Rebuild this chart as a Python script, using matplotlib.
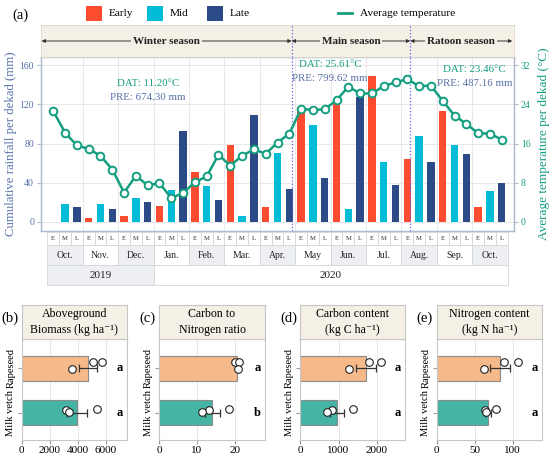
import numpy as np
import matplotlib
matplotlib.use('Agg')
import matplotlib.pyplot as plt
from matplotlib.patches import Rectangle
from matplotlib.lines import Line2D
from matplotlib.transforms import blended_transform_factory

plt.rcParams['font.family'] = ['Liberation Serif', 'DejaVu Serif']

# ---- data (a) ----
months = ['Oct.', 'Nov.', 'Dec.', 'Jan.', 'Feb.', 'Mar.', 'Apr.', 'May',
          'Jun.', 'Jul.', 'Aug.', 'Sep.', 'Oct.']
dekads = ['E', 'M', 'L']
years = ['2019', '2020']
year_months = [3, 10]

rain_early = [0, 4, 6, 16, 51, 78, 15.6, 113, 120, 149, 64.5, 113, 15.6]
rain_mid = [18, 18, 24, 33, 37, 6, 70, 99, 13, 61.5, 87.6, 78, 32]
rain_late = [15, 13, 20, 93, 22, 109, 34, 45, 127, 38, 61, 69, 40]

temp = [22.6, 18.2, 15.6, 14.9, 13.5, 10.7, 6.0, 9.4, 7.5,
        7.9, 4.9, 5.9, 8.1, 9.3, 13.7, 11.5, 13.5, 14.8,
        13.9, 16.2, 18.0, 23.1, 22.8, 23.0, 24.8, 27.6, 26.2,
        26.2, 27.7, 28.5, 29.1, 27.7, 27.8, 24.7, 21.7, 20.0,
        18.1, 18.0, 16.8]

seasons = ['Winter season', 'Main season', 'Ratoon season']
season_bounds = [20.2, 30.25]
season_dat = ['DAT: 11.20°C', 'DAT: 25.61°C', 'DAT: 23.46°C']
season_pre = ['PRE: 674.30 mm', 'PRE: 799.62 mm', 'PRE: 487.16 mm']

# ---- data (b)-(e) ----
crops = ['Rapeseed', 'Milk vetch']
panels = [
    dict(tag='(b)', title='Aboveground\nBiomass (kg ha⁻¹)',
         mean=[4740, 3960], se=[640, 710],
         pts=[[5100, 5765, 3630], [3200, 3370, 5410]],
         letters=['a', 'a'], xmax=7550, ticks=[0, 2000, 4000, 6000]),
    dict(tag='(c)', title='Carbon to\nNitrogen ratio',
         mean=[20.6, 14.1], se=[0.35, 2.0],
         pts=[[20.0, 21.2, 21.0], [13.2, 11.2, 18.4]],
         letters=['a', 'b'], xmax=28, ticks=[0, 10, 20]),
    dict(tag='(d)', title='Carbon content\n(kg C ha⁻¹)',
         mean=[1713, 957], se=[260, 190],
         pts=[[1800, 2096, 1261], [826, 713, 1365]],
         letters=['a', 'a'], xmax=2740, ticks=[0, 1000, 2000]),
    dict(tag='(e)', title='Nitrogen content\n(kg N ha⁻¹)',
         mean=[83.7, 67], se=[13, 4],
         pts=[[88.1, 107, 61.7], [63, 65.2, 77.5]],
         letters=['a', 'a'], xmax=139, ticks=[0, 50, 100]),
]
jitter = [[0.14, 0.14, -0.02], [0.05, 0.01, 0.08]]

# ---- colours ----
c_early = '#FC4B2E'
c_mid = '#00BCD6'
c_late = '#2B4A86'
c_temp = '#139E80'
c_rain_txt = '#5670A8'
c_beige = '#F5F0E6'
c_spine = '#AEBAD0'
c_rape = '#F6B98A'
c_milk = '#45B4A4'

W, H = 550, 458
fig = plt.figure(figsize=(W / 100, H / 100), dpi=100)


def box(x0, y0, x1, y1):
    # pixel box (top-left origin) -> figure fraction
    return [x0 / W, 1 - y1 / H, (x1 - x0) / W, (y1 - y0) / H]


n = len(months) * 3
xlo, xhi = -1.04, n - 1 + 1.04

# ---------------- (a) main plot ----------------
ax = fig.add_axes(box(41, 57, 514, 231))
pos = np.arange(len(months)) * 3
bw = 0.62
ax.bar(pos, rain_early, width=bw, color=c_early, zorder=2)
ax.bar(pos + 1, rain_mid, width=bw, color=c_mid, zorder=2)
ax.bar(pos + 2, rain_late, width=bw, color=c_late, zorder=2)
ax.set_xlim(xlo, xhi)
ax.set_ylim(-9.2, 168.2)
ax.set_yticks([0, 40, 80, 120, 160])
ax.set_xticks(np.arange(2.5, n - 1, 3))
ax.tick_params(axis='x', length=0, labelbottom=False)
ax.tick_params(axis='y', length=3, color=c_spine, labelcolor=c_rain_txt,
               labelsize=7, pad=2)
ax.grid(True, color='#E8E8E8', lw=0.7, zorder=0)
ax.set_axisbelow(True)
for s in ax.spines.values():
    s.set_color(c_spine)
    s.set_linewidth(0.9)
ax.set_ylabel('Cumulative rainfall per dekad (mm)', color=c_rain_txt,
              fontsize=9.2, labelpad=1.5)

ax2 = ax.twinx()
ax2.plot(np.arange(n), temp, color=c_temp, lw=1.8, marker='o', ms=5.5,
         mfc='white', mec=c_temp, mew=1.4, zorder=5)
ax2.set_ylim(-9.2 / 5, 168.2 / 5)
ax2.set_yticks([0, 8, 16, 24, 32])
ax2.tick_params(axis='y', length=3, color=c_spine, labelcolor=c_temp,
                labelsize=7, pad=2)
for s in ax2.spines.values():
    s.set_color(c_spine)
    s.set_linewidth(0.9)
ax2.set_ylabel('Average temperature per dekad (°C)', color=c_temp,
               fontsize=9.5, labelpad=5)

for b in season_bounds:
    ax.axvline(b, color='#6060EE', ls=':', lw=0.9, zorder=3)

# season summary texts
txt_x = [8.0, 23.45, 35.7]
txt_y = [(141, 127), (161, 146), (155, 141)]
for i in range(3):
    ax.text(txt_x[i], txt_y[i][0], season_dat[i], color=c_temp, fontsize=7.8,
            ha='center', va='center', zorder=6)
    ax.text(txt_x[i], txt_y[i][1], season_pre[i], color=c_rain_txt,
            fontsize=7.8, ha='center', va='center', zorder=6)

# season header band
axh = fig.add_axes(box(41, 25, 514, 57))
axh.set_facecolor(c_beige)
axh.set_xlim(xlo, xhi)
axh.set_ylim(0, 1)
axh.set_xticks([])
axh.set_yticks([])
for s in axh.spines.values():
    s.set_color('#DDD7CA')
    s.set_linewidth(0.6)
edges = [xlo + 0.05] + season_bounds + [xhi - 0.15]
for i, name in enumerate(seasons):
    x0, x1 = edges[i], edges[i + 1]
    axh.annotate('', xy=(x0, 0.5), xytext=(x1, 0.5),
                 arrowprops=dict(arrowstyle='<|-|>', color='#333333', lw=0.7,
                                 mutation_scale=5, shrinkA=0, shrinkB=0))
    axh.text((x0 + x1) / 2, 0.5, name, ha='center', va='center',
             fontsize=8, fontweight='bold', color='#222222',
             bbox=dict(facecolor=c_beige, edgecolor='none', pad=1.5))
for b in season_bounds:
    axh.axvline(b, color='#6060EE', ls=':', lw=0.9)

# table under the x axis
axt = fig.add_axes(box(41, 231, 514, 286))
axt.set_xlim(xlo, xhi)
axt.set_ylim(55, 0)
axt.axis('off')
grid_c = '#D3D6DA'
for i in range(n):
    axt.add_patch(Rectangle((i - 0.5, 1), 1, 13, fc='white', ec=grid_c, lw=0.6))
    axt.text(i, 7.5, dekads[i % 3], ha='center', va='center', fontsize=4.8,
             color='#333333')
for m, name in enumerate(months):
    fc = '#EDEFF2' if m % 2 == 0 else 'white'
    axt.add_patch(Rectangle((m * 3 - 0.5, 14), 3, 20, fc=fc, ec=grid_c, lw=0.6))
    axt.text(m * 3 + 1, 24, name, ha='center', va='center', fontsize=7,
             color='#222222')
start = 0
for k, yr in enumerate(years):
    width = year_months[k] * 3
    fc = '#EDEFF2' if k == 0 else 'white'
    axt.add_patch(Rectangle((start - 0.5, 34), width, 20, fc=fc, ec=grid_c, lw=0.6))
    axt.text(start - 0.5 + width / 2, 44, yr, ha='center', va='center',
             fontsize=8, color='#222222')
    start += width

# legend row
fig.text(12 / W, 1 - 15 / H, '(a)', fontsize=10.5, ha='left', va='center')
leg_items = [(86, c_early, 'Early'), (147, c_mid, 'Mid'), (207, c_late, 'Late')]
for x, c, lab in leg_items:
    fig.patches.append(Rectangle((x / W, 1 - 21 / H), 16 / W, 15 / H,
                                 fc=c, ec='none', transform=fig.transFigure))
    fig.text((x + 23) / W, 1 - 13 / H, lab, fontsize=8.2, va='center')
fig.lines.append(Line2D([338 / W, 352 / W], [1 - 13 / H, 1 - 13 / H],
                        color=c_temp, lw=2, transform=fig.transFigure))
fig.text(360 / W, 1 - 13 / H, 'Average temperature', fontsize=8.2, va='center')

# ---------------- (b)-(e) ----------------
px_left = [21.7, 159.3, 300, 436.7]
for k, p in enumerate(panels):
    x0 = px_left[k]
    x1 = x0 + 105.5
    axb = fig.add_axes(box(x0, 339, x1, 440))
    axb.barh([1, 0], p['mean'], height=0.57, color=[c_rape, c_milk],
             edgecolor='#8A8A8A', lw=0.8, zorder=2)
    axb.errorbar(p['mean'], [1, 0], xerr=p['se'], fmt='none', ecolor='#333333',
                 elinewidth=0.9, capsize=3, capthick=0.9, zorder=3)
    for j in range(2):
        axb.scatter(p['pts'][j], np.array(jitter[j]) + (1 - j), s=30,
                    facecolor='white', edgecolor='#222222', lw=0.8, zorder=4)
    tr = blended_transform_factory(axb.transAxes, axb.transData)
    for j in range(2):
        axb.text(0.93, 1 - j, p['letters'][j], transform=tr, ha='center',
                 va='center', fontsize=9, fontweight='bold')
    axb.set_xlim(0, p['xmax'])
    axb.set_ylim(-0.62, 1.66)
    axb.set_xticks(p['ticks'])
    axb.set_yticks([1, 0])
    axb.set_yticklabels(crops, rotation=90, va='center', fontsize=7.6)
    axb.tick_params(axis='x', labelsize=8, length=3, color='#999999', pad=1.5)
    axb.tick_params(axis='y', length=3, color='#999999', pad=1.5)
    axb.grid(True, axis='x', color='#E6E6E6', lw=0.7)
    axb.set_axisbelow(True)
    for s in axb.spines.values():
        s.set_color('#C6C6C6')
        s.set_linewidth(0.8)

    hx = fig.add_axes(box(x0, 305, x1, 339))
    hx.set_facecolor(c_beige)
    hx.set_xticks([])
    hx.set_yticks([])
    for s in hx.spines.values():
        s.set_color('#C6C6C6')
        s.set_linewidth(0.8)
    hx.text(0.5, 0.5, p['title'], ha='center', va='center', fontsize=8.6,
            linespacing=1.35, transform=hx.transAxes)
    fig.text((x0 - 20) / W, 1 - 318 / H, p['tag'], fontsize=10.5,
             ha='left', va='center')

fig.savefig('out.png', dpi=100)
